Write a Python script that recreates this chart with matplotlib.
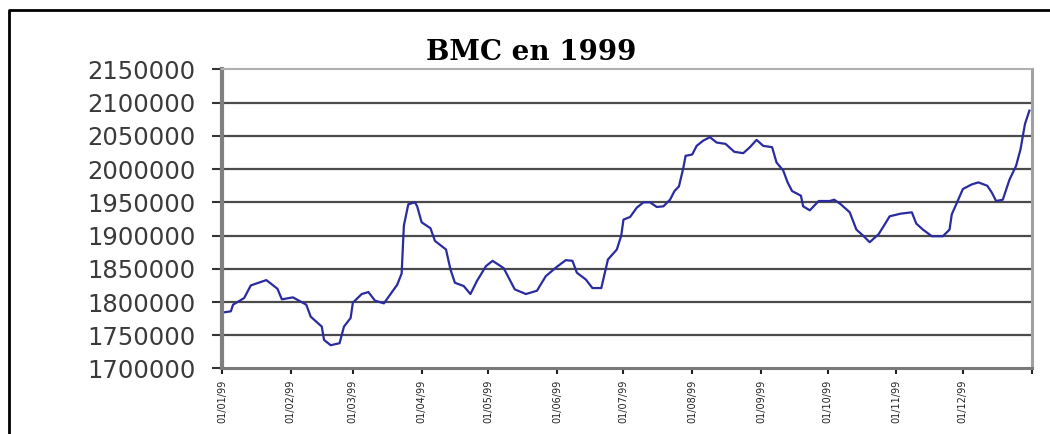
import matplotlib
matplotlib.use('Agg')
import matplotlib.pyplot as plt
import numpy as np
from matplotlib.lines import Line2D

# day of 1999 (0 = 1 Jan) and value
days = [0, 4, 5, 10, 13, 20, 25, 27, 32, 38, 40, 45, 46, 49, 53, 55, 58, 59,
        63, 66, 69, 73, 76, 79, 81, 82, 84, 87, 88, 90, 94, 96, 101, 103, 105,
        109, 112, 115, 119, 122, 127, 132, 137, 142, 146, 151, 155, 158, 160,
        164, 167, 171, 174, 178, 180, 181, 184, 187, 190, 193, 196, 199, 202,
        204, 206, 208, 209, 212, 214, 217, 220, 223, 227, 231, 235, 238, 241,
        244, 248, 250, 253, 255, 257, 261, 262, 265, 269, 274, 276, 279, 283,
        286, 289, 292, 296, 299, 301, 306, 311, 313, 316, 320, 325, 328, 329,
        331, 334, 338, 341, 345, 347, 349, 352, 355, 358, 360, 362, 364]
values = [1784000, 1786000, 1796000, 1806000, 1825000, 1833000, 1820000, 1804000,
          1807000, 1796000, 1778000, 1763000, 1743000, 1735000, 1738000, 1763000,
          1776000, 1799000, 1812000, 1815000, 1802000, 1798000, 1812000, 1826000,
          1843000, 1915000, 1947000, 1950000, 1944000, 1920000, 1911000, 1892000,
          1879000, 1849000, 1829000, 1824000, 1812000, 1832000, 1854000, 1862000,
          1851000, 1819000, 1812000, 1817000, 1839000, 1853000, 1863000, 1862000,
          1844000, 1834000, 1821000, 1821000, 1864000, 1879000, 1900000, 1924000,
          1928000, 1942000, 1950000, 1950000, 1943000, 1944000, 1954000, 1967000,
          1974000, 2002000, 2020000, 2022000, 2035000, 2043000, 2048000, 2040000,
          2038000, 2026000, 2024000, 2033000, 2044000, 2035000, 2033000, 2010000,
          1998000, 1980000, 1967000, 1960000, 1944000, 1938000, 1952000, 1952000,
          1954000, 1947000, 1935000, 1909000, 1900000, 1890000, 1902000, 1918000,
          1929000, 1933000, 1935000, 1918000, 1909000, 1899000, 1899000, 1909000,
          1932000, 1947000, 1970000, 1977000, 1980000, 1975000, 1965000, 1952000,
          1954000, 1984000, 2005000, 2030000, 2068000, 2088000]

month_starts = ['1999-01-01', '1999-02-01', '1999-03-01', '1999-04-01',
                '1999-05-01', '1999-06-01', '1999-07-01', '1999-08-01',
                '1999-09-01', '1999-10-01', '1999-11-01', '1999-12-01', '2000-01-01']
month_labels = ['01/01/99', '01/02/99', '01/03/99', '01/04/99', '01/05/99',
                '01/06/99', '01/07/99', '01/08/99', '01/09/99', '01/10/99',
                '01/11/99', '01/12/99', '']
y_ticks = [1700000, 1750000, 1800000, 1850000, 1900000, 1950000,
           2000000, 2050000, 2100000, 2150000]

dates = np.datetime64('1999-01-01') + np.array(days).astype('timedelta64[D]')
tick_dates = np.array(month_starts, dtype='datetime64[D]')

fig = plt.figure(figsize=(10.5, 4.34), dpi=100)
ax = fig.add_axes([0.2114, 0.151, 0.7711, 0.689])

ax.plot(dates, values, color='#2b2ba0', lw=1.6)

ax.set_xlim(tick_dates[0], tick_dates[-1])
ax.set_ylim(y_ticks[0], y_ticks[-1])
ax.set_yticks(y_ticks)
ax.set_yticklabels([str(v) for v in y_ticks])
ax.set_xticks(tick_dates)
ax.set_xticklabels(month_labels, rotation=90)

ax.grid(True, axis='y', color='#4a4a4a', lw=1.6)
ax.set_axisbelow(True)
ax.yaxis.get_gridlines()[0].set_visible(False)
ax.yaxis.get_gridlines()[-1].set_visible(False)

ax.spines['left'].set_color('#808080')
ax.spines['left'].set_linewidth(3)
ax.spines['bottom'].set_color('#7a7a7a')
ax.spines['bottom'].set_linewidth(2.2)
ax.spines['top'].set_color('#b0b0b0')
ax.spines['top'].set_linewidth(1.5)
ax.spines['right'].set_color('#a0a0a0')
ax.spines['right'].set_linewidth(2.2)

ax.tick_params(axis='y', length=7, width=1.5, color='#333333', pad=12,
               labelsize=17.5, labelcolor='#3a3a3a')
ax.tick_params(axis='x', length=4, width=1.5, color='#222222', pad=4,
               labelsize=7, labelcolor='#222222')

fig.text(531 / 1050, 1 - 53 / 434, 'BMC en 1999', ha='center', va='center',
         fontsize=20, fontweight='bold', family='DejaVu Serif')

# outer frame of the pasted chart
fig.add_artist(Line2D([9 / 1050, 9 / 1050, 1.0], [0.0, 1 - 9.5 / 434, 1 - 9.5 / 434],
                      transform=fig.transFigure, color='black', lw=2))

fig.savefig('out.png', dpi=100)
plt.close(fig)
